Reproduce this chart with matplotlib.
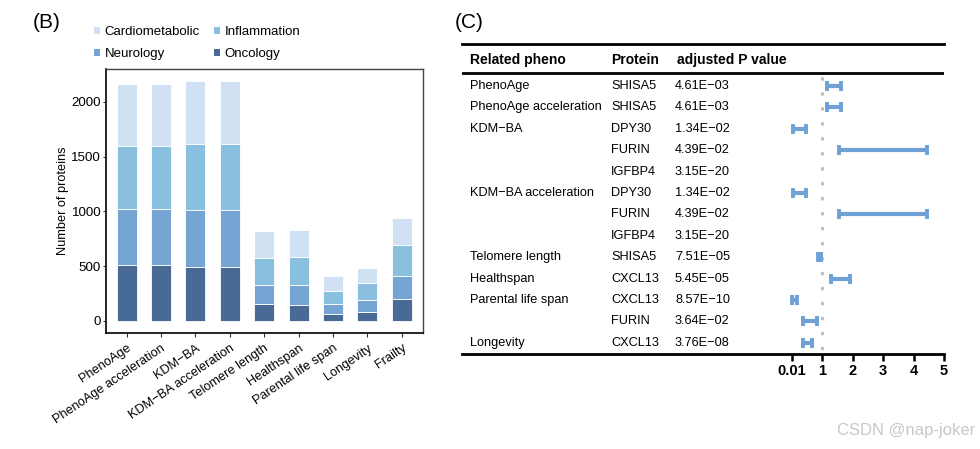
import matplotlib
matplotlib.use("Agg")
import matplotlib.pyplot as plt
from matplotlib.patches import Patch
import numpy as np

plt.rcParams['font.family'] = ['Liberation Sans', 'DejaVu Sans']

# ---------------- Panel B data ----------------
phenos = ["PhenoAge", "PhenoAge acceleration", "KDM\u2212BA", "KDM\u2212BA acceleration",
          "Telomere length", "Healthspan", "Parental life span", "Longevity", "Frailty"]
oncology = [510, 510, 495, 495, 158, 149, 67, 85, 203]
neurology = [514, 514, 520, 520, 173, 182, 91, 109, 207]
inflammation = [571, 571, 596, 596, 240, 252, 118, 149, 283]
cardiometabolic = [572, 572, 577, 577, 247, 243, 131, 137, 246]
categories = ["Oncology", "Neurology", "Inflammation", "Cardiometabolic"]
cat_colors = {"Cardiometabolic": "#cfe1f3", "Inflammation": "#89bfdf",
              "Neurology": "#76a5d3", "Oncology": "#4a6a96"}
y_ticks_b = [0, 500, 1000, 1500, 2000]

# ---------------- Panel C data ----------------
rel_pheno = ["PhenoAge", "PhenoAge acceleration", "KDM\u2212BA", "", "",
             "KDM\u2212BA acceleration", "", "", "Telomere length", "Healthspan",
             "Parental life span", "", "Longevity"]
proteins = ["SHISA5", "SHISA5", "DPY30", "FURIN", "IGFBP4", "DPY30", "FURIN", "IGFBP4",
            "SHISA5", "CXCL13", "CXCL13", "FURIN", "CXCL13"]
pvals = ["4.61E\u221203", "4.61E\u221203", "1.34E\u221202", "4.39E\u221202", "3.15E\u221220",
         "1.34E\u221202", "4.39E\u221202", "3.15E\u221220", "7.51E\u221205", "5.45E\u221205",
         "8.57E\u221210", "3.64E\u221202", "3.76E\u221208"]
ci_low = [1.15, 1.15, 0.05, 1.55, np.nan, 0.05, 1.55, np.nan, 0.87, 1.29, 0.02, 0.37, 0.37]
ci_high = [1.62, 1.62, 0.47, 4.43, np.nan, 0.47, 4.43, np.nan, 0.98, 1.92, 0.17, 0.82, 0.68]
forest_ticks = [0, 1, 2, 3, 4, 5]
forest_tick_labels = ["0.01", "1", "2", "3", "4", "5"]
ref_value = 1

W, H = 980, 449
fig = plt.figure(figsize=(W / 100, H / 100), dpi=100)

def px_axes(l, t, r, b):
    return fig.add_axes([l / W, 1 - b / H, (r - l) / W, (b - t) / H])

# ---------------- Panel B ----------------
axb = px_axes(106, 69, 423, 333)
x = np.arange(len(phenos))
bottom = np.zeros(len(phenos))
series = {"Oncology": oncology, "Neurology": neurology,
          "Inflammation": inflammation, "Cardiometabolic": cardiometabolic}
for cat in categories:
    vals = np.array(series[cat], dtype=float)
    axb.bar(x, vals, bottom=bottom, width=0.58, color=cat_colors[cat],
            edgecolor="white", linewidth=0.6)
    bottom += vals
axb.set_xlim(-0.6, len(phenos) - 1 + 0.62)
axb.set_ylim(-110, 2300)
axb.set_yticks(y_ticks_b)
axb.tick_params(axis='y', labelsize=9.6, length=2.5, width=0.8, pad=1,
                colors="#333333", labelcolor="black")
axb.tick_params(axis='x', labelsize=9.2, length=3, width=0.8, colors="#333333", labelcolor="black")
axb.set_xticks(x)
axb.set_xticklabels(phenos, rotation=34, ha="right", rotation_mode="anchor")
axb.set_ylabel("Number of proteins", fontsize=9.2, labelpad=2)
for sp in axb.spines.values():
    sp.set_color("#444444")
    sp.set_linewidth(1.0)
axb.spines['left'].set_color("black")
axb.spines['bottom'].set_color("black")
axb.spines['left'].set_linewidth(1.2)
axb.spines['bottom'].set_linewidth(1.2)

legend_order = ["Cardiometabolic", "Inflammation", "Neurology", "Oncology"]
handles = [Patch(facecolor=cat_colors[c], edgecolor="none", label=c) for c in legend_order]
h_ordered = [handles[0], handles[2], handles[1], handles[3]]
fig.legend(handles=h_ordered, loc="upper left", bbox_to_anchor=(89 / W, 1 - 21 / H),
           ncol=2, frameon=False, fontsize=9.5, handlelength=0.45, handleheight=0.45,
           handletextpad=0.35, columnspacing=1.05, labelspacing=0.75, borderaxespad=0)

fig.text(33 / W, 1 - 22 / H, "(B)", fontsize=15, va="center", ha="left")
fig.text(455 / W, 1 - 22 / H, "(C)", fontsize=15, va="center", ha="left")

# ---------------- Panel C ----------------
x0_px, ppu = 791.7, 30.5
left_px, right_px = 462, 944
axc = px_axes(left_px, 44, right_px, 354)
xmin = (left_px - x0_px) / ppu
xmax = (right_px - x0_px) / ppu
axc.set_xlim(xmin, xmax)
n = len(proteins)
ytop = -1.96
ybot = 12.52
axc.set_ylim(ybot, ytop)
for s in ['left', 'right']:
    axc.spines[s].set_visible(False)
axc.spines['top'].set_linewidth(2)
axc.spines['bottom'].set_linewidth(2)
axc.set_yticks([])
axc.set_xticks(forest_ticks)
axc.set_xticklabels(forest_tick_labels, fontsize=10.5, fontweight="bold")
axc.tick_params(axis='x', length=5, width=1.8, pad=2)

header_y = -1.21
axc.axhline(-0.6, color="black", lw=2)
col_x = [(470 - left_px) / (right_px - left_px),
         (611 - left_px) / (right_px - left_px),
         (675 - left_px) / (right_px - left_px)]
tr_txt = matplotlib.transforms.blended_transform_factory(axc.transAxes, axc.transData)
axc.text(col_x[0], header_y, "Related pheno", transform=tr_txt, fontsize=10, fontweight="bold", va="center")
axc.text(col_x[1], header_y, "Protein", transform=tr_txt, fontsize=10, fontweight="bold", va="center")
axc.text(col_x[2] + 0.004, header_y, "adjusted P value", transform=tr_txt, fontsize=10, fontweight="bold", va="center")
for i in range(n):
    axc.text(col_x[0], i, rel_pheno[i], transform=tr_txt, fontsize=9.2, va="center")
    axc.text(col_x[1], i, proteins[i], transform=tr_txt, fontsize=9.2, va="center")
    axc.text(col_x[2], i, pvals[i], transform=tr_txt, fontsize=9.2, va="center")

axc.plot([ref_value, ref_value], [-0.35, ybot], color="#bdbdbd", lw=2.2,
         linestyle=(0, (0.3, 4.6)), dash_capstyle="round", zorder=1)

blue = "#6fa0d6"
for i in range(n):
    lo, hi = ci_low[i], ci_high[i]
    if np.isnan(lo):
        continue
    mid = (lo + hi) / 2
    axc.errorbar(mid, i, xerr=[[mid - lo], [hi - mid]], fmt='none', ecolor=blue,
                 elinewidth=3, capsize=3.4, capthick=2.8, zorder=3)

fig.text(975 / W, 1 - 430 / H, "CSDN @nap-joker", fontsize=12, color="#c8c8c8",
         ha="right", va="center")

fig.savefig("out.png", dpi=100)
